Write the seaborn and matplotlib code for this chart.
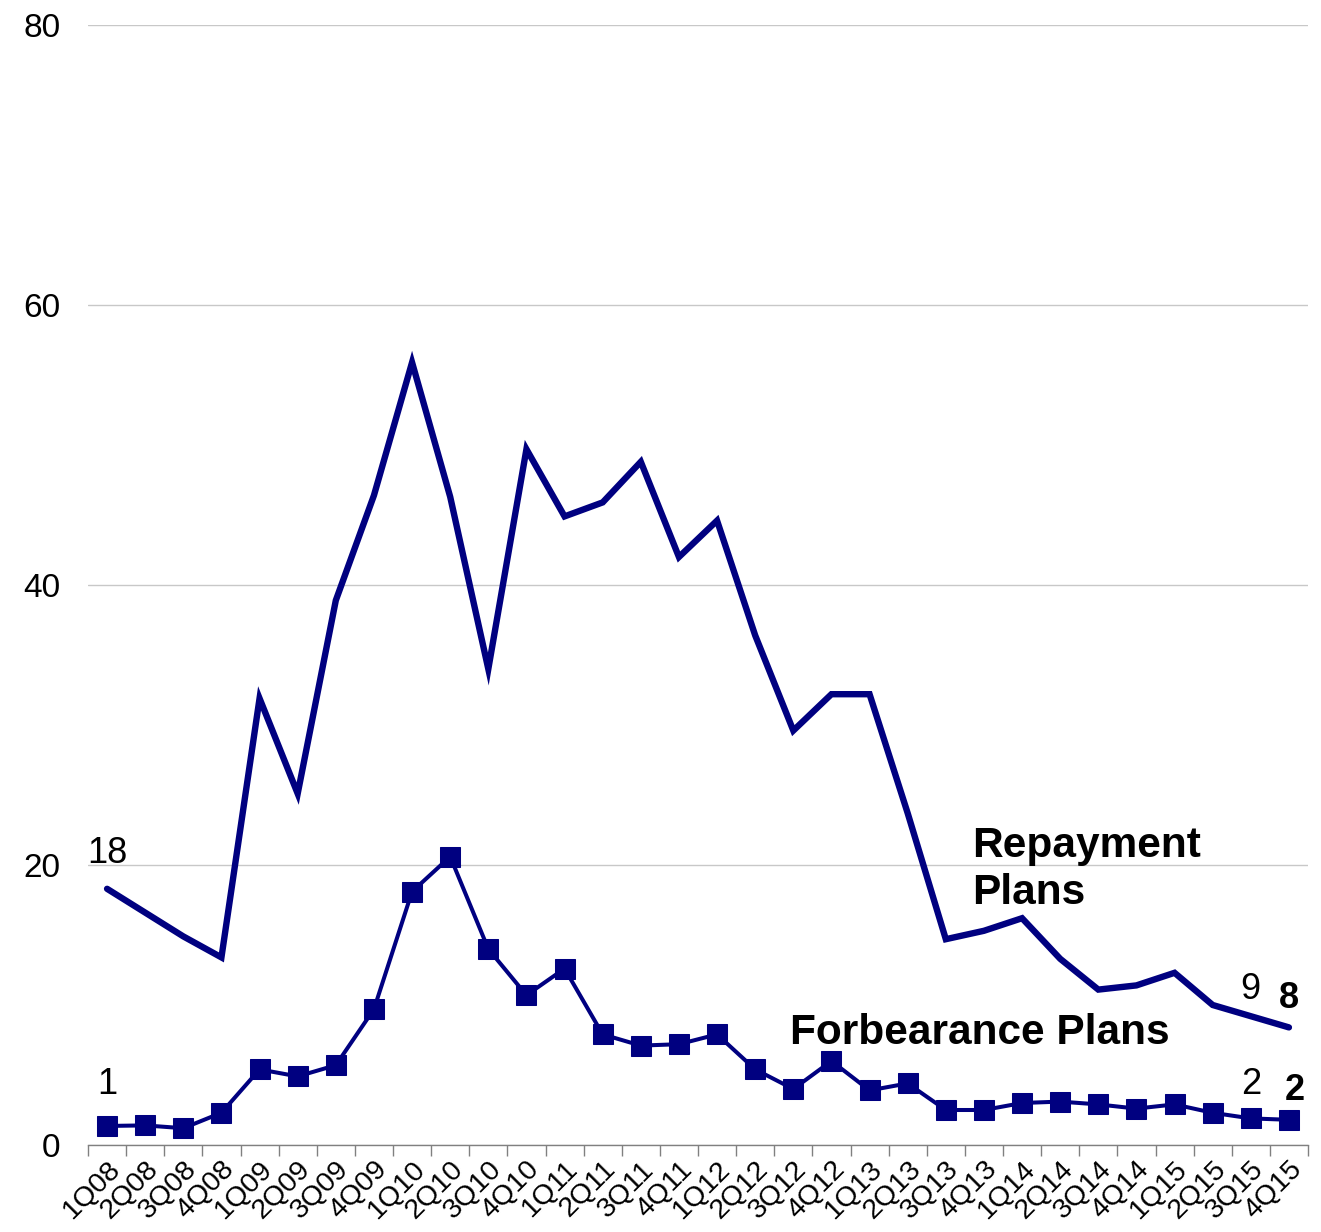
import matplotlib
matplotlib.use("Agg")
import matplotlib.pyplot as plt
import seaborn as sns
import pandas as pd
import numpy as np
from matplotlib.ticker import FixedLocator, NullFormatter

quarters = [f"{q}Q{y:02d}" for y in range(8, 16) for q in range(1, 5)]
repayment = [18.3, 16.6, 14.9, 13.4, 31.9, 25.1, 38.9, 46.4, 55.9, 46.3, 34.0, 49.7,
             44.9, 45.9, 48.8, 42.0, 44.6, 36.4, 29.6, 32.2, 32.2, 23.7, 14.7, 15.3,
             16.2, 13.3, 11.1, 11.4, 12.3, 10.0, 9.2, 8.4]
forbearance = [1.36, 1.4, 1.2, 2.3, 5.4, 4.9, 5.7, 9.7, 18.1, 20.6, 14.0, 10.7,
               12.6, 7.9, 7.1, 7.2, 7.9, 5.4, 4.0, 6.0, 3.9, 4.4, 2.5, 2.5,
               3.0, 3.1, 2.9, 2.6, 2.9, 2.3, 1.9, 1.8]
yticks = [0, 20, 40, 60, 80]

sns.set_theme(style="white", rc={"text.color": "black", "xtick.color": "black",
                                 "ytick.color": "black", "axes.labelcolor": "black"})
plt.rcParams['font.family'] = ['Liberation Sans', 'DejaVu Sans']

df = pd.DataFrame({"idx": np.arange(len(quarters)), "quarter": quarters,
                   "repayment": repayment, "forbearance": forbearance})

W, H = 1321, 1232
fig = plt.figure(figsize=(W / 100, H / 100), dpi=100)
ax = fig.add_axes([88 / W, 1 - 1145 / H, (1308 - 88) / W, (1145 - 25) / H])

navy = "#000080"
sns.lineplot(data=df, x="idx", y="repayment", ax=ax, color=navy, linewidth=4.6,
             solid_joinstyle="miter", solid_capstyle="round")
sns.lineplot(data=df, x="idx", y="forbearance", ax=ax, color=navy, linewidth=2.9,
             marker="s", markersize=14.5, markeredgecolor=navy, markerfacecolor=navy)

ax.set_xlim(-0.5, len(quarters) - 0.5)
ax.set_ylim(0, 80)
ax.set_yticks(yticks)
ax.set_yticklabels([str(v) for v in yticks], fontsize=24)
ax.yaxis.grid(True, color="#c8c8c8", linewidth=1)
ax.set_axisbelow(True)

ax.set_xticks(df["idx"])
ax.set_xticklabels(quarters, rotation=45, ha="right", rotation_mode="anchor",
                   fontsize=20.5)
ax.tick_params(axis="x", which="major", length=0, pad=8)
ax.xaxis.set_minor_locator(FixedLocator(np.arange(-0.5, len(quarters), 1.0)))
ax.xaxis.set_minor_formatter(NullFormatter())
ax.tick_params(axis="x", which="minor", length=8, width=1, color="#808080",
               bottom=True)
ax.tick_params(axis="y", length=0, pad=20)

for s in ["top", "right", "left"]:
    ax.spines[s].set_visible(False)
ax.spines["bottom"].set_color("#808080")
ax.spines["bottom"].set_linewidth(1)
ax.set_xlabel("")
ax.set_ylabel("")

ax.text(0, 20.8, "18", fontsize=26, ha="center", va="center")
ax.text(0, 4.3, "1", fontsize=26, ha="center", va="center")
ax.text(30, 11.1, "9", fontsize=26, ha="center", va="center")
ax.text(31, 10.5, "8", fontsize=26, ha="center", va="center", fontweight="bold")
ax.text(30, 4.3, "2", fontsize=26, ha="center", va="center")
ax.text(31.15, 3.9, "2", fontsize=26, ha="center", va="center", fontweight="bold")
ax.text(22.7, 19.7, "Repayment\nPlans", fontsize=30.5, fontweight="bold",
        ha="left", va="center", linespacing=1.22)
ax.text(17.9, 8.0, "Forbearance Plans", fontsize=30.5, fontweight="bold",
        ha="left", va="center")

fig.savefig("out.png", dpi=100)
